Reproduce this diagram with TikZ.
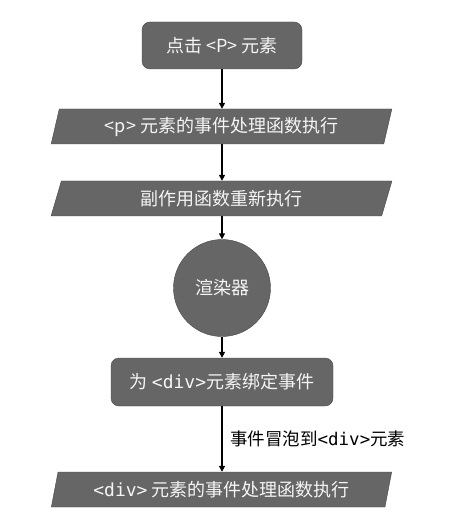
\documentclass[tikz,border=0pt]{standalone}
\usepackage{fontspec}
\setmainfont{Noto Sans CJK SC}
\newfontfamily\codefont{DejaVu Sans Mono}
\usetikzlibrary{shapes.geometric,arrows.meta}
\tikzset{
  stepfont/.style={font=\fontsize{18}{21}\selectfont},
  rbox/.style={draw=black!72, fill=black!60, text=black!4, stepfont, rounded corners=8pt},
  iobox/.style={trapezium, trapezium left angle=77, trapezium right angle=103, trapezium stretches=true,
    draw=black!72, fill=black!60, text=black!4, stepfont, minimum width=341pt, minimum height=35pt},
  flow/.style={-{Triangle[length=6pt,width=6pt]}, line width=1.6pt}
}
\begin{document}
\begin{tikzpicture}[x=1pt,y=-1pt]
\useasboundingbox (0,0) rectangle (459,526);
\node(click) at (222,45.5) [rbox, minimum width=160pt, minimum height=47pt]{点击 <P> 元素};
\node(phandler) at (221.5,126.5) [iobox]{<p> 元素的事件处理函数执行};
\node(effect) at (221.5,198.5) [iobox]{副作用函数重新执行};
\node(render) at (222,288) [circle, draw=black!72, fill=black!60, text=black!4, stepfont, minimum size=97pt]{渲染器};
\node(bind) at (222,382) [rbox, minimum width=222pt, minimum height=48pt]{为 {\codefont<div>}元素绑定事件};
\node(divhandler) at (221.5,489.5) [iobox]{{\codefont<div>} 元素的事件处理函数执行};

\draw [flow] (click.south) -- (click.south |- phandler.north);
\draw [flow] (click.south |- phandler.south) -- (click.south |- effect.north);
\draw [flow] (click.south |- effect.south) -- (render.north);
\draw [flow] (render.south) -- (bind.north);
\draw [flow] (bind.south) -- node[right=4pt, font=\fontsize{17.5}{20}\selectfont]{事件冒泡到{\codefont<div>}元素} (bind.south |- divhandler.north);

\end{tikzpicture}
\end{document}
